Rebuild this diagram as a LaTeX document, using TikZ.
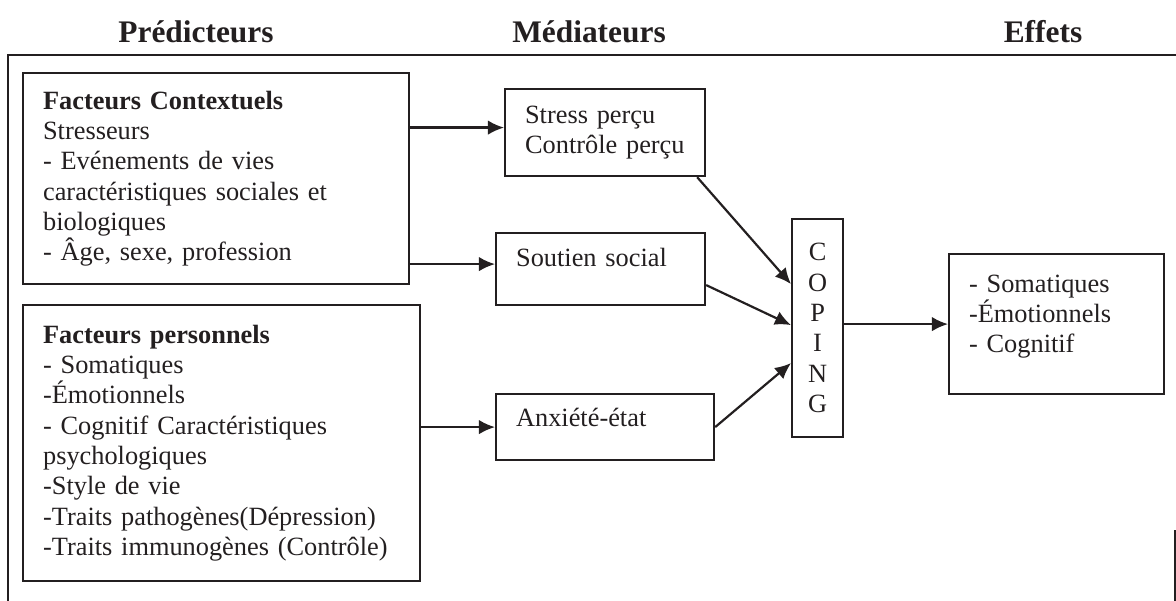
\documentclass[tikz,border=0pt]{standalone}
\usepackage{fontspec}
\setmainfont{Liberation Serif}
\usetikzlibrary{arrows.meta}
\newlength\px
\setlength\px{0.016cm}
\definecolor{trait}{HTML}{231F20}

\begin{document}
\begin{tikzpicture}[x=0.016cm,y=-0.016cm,
  every node/.style={font=\fontsize{12pt}{13.8pt}\selectfont,text=trait},
  titre/.style={font=\fontsize{14.3pt}{16pt}\selectfont\bfseries},
  boite/.style={draw=trait,line width=1pt,anchor=north west,align=left,inner xsep=20\px,inner ysep=0pt},
  fleche/.style={-{Latex[length=7.3pt,width=6.6pt]},draw=trait,line width=1pt},
  cadre/.style={draw=trait,line width=1.1pt}]
\useasboundingbox (0,0) rectangle (1176,601);
% en-tetes
\node[titre] (tpred) at (196,32) {Prédicteurs};
\node[titre] (tmed) at (589,32) {Médiateurs};
\node[titre] (teff) at (1043,32) {Effets};
\draw[cadre] (8,601) -- (8,55) -- (1176,55);
\draw[cadre] (1175,530) -- (1175,601);
% predicteurs
\node[boite,text width=346\px,minimum width=386\px,minimum height=211\px] (ctx) at (22,72) {\textbf{Facteurs Contextuels}\\Stresseurs\\- Evénements de vies\\caractéristiques sociales et\\biologiques\\- Âge, sexe, profession};
\node[boite,text width=357\px,minimum width=397\px,minimum height=276\px] (pers) at (22,304) {\textbf{Facteurs personnels}\\- Somatiques\\-Émotionnels\\- Cognitif Caractéristiques\\psychologiques\\-Style de vie\\-Traits pathogènes(Dépression)\\-Traits immunogènes (Contrôle)};
% mediateurs
\node[boite,text width=160\px,minimum width=200\px,minimum height=87\px] (stress) at (504,88) {Stress perçu\\Contrôle perçu};
\node[boite,text width=169\px,minimum width=209\px,minimum height=72\px] (soutien) at (495,232) {Soutien social\rule[-24\px]{0pt}{0pt}};
\node[boite,text width=178\px,minimum width=218\px,minimum height=66\px] (anx) at (495,393) {Anxiété-état\rule[-20\px]{0pt}{0pt}};
\node[boite,align=center,inner sep=0pt,minimum width=51\px,minimum height=218\px] (coping) at (791,218) {C\\O\\P\\I\\N\\G};
% effets
\node[boite,text width=175\px,minimum width=215\px,minimum height=140\px] (effets) at (948,253) {- Somatiques\\-Émotionnels\\- Cognitif\rule[-21\px]{0pt}{0pt}};
\coordinate (s1) at ([yshift=5\px]stress.west);
\coordinate (s2) at ([yshift=5\px]soutien.west);
\draw[fleche] (ctx.east |- s1) -- (s1);
\draw[fleche] (ctx.east |- s2) -- (s2);
\draw[fleche] (pers.east |- anx.west) -- (anx.west);
\draw[fleche] ([xshift=-9\px]stress.south east) -- ([yshift=44\px]coping.west);
\draw[fleche] ([yshift=-16\px]soutien.east) -- ([yshift=3\px]coping.west);
\draw[fleche] (anx.east) -- ([yshift=-35\px]coping.west);
\draw[fleche] (coping.east |- effets.west) -- (effets.west);
\end{tikzpicture}
\end{document}
